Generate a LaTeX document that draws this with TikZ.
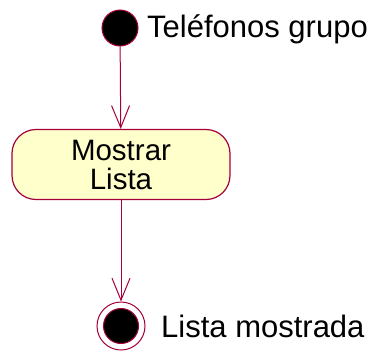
\documentclass[tikz,border=0pt]{standalone}
\usepackage{fontspec}
\setmainfont{Liberation Sans}
\usepackage{tikz}
\usetikzlibrary{arrows.meta,positioning}
\definecolor{umlline}{RGB}{165,0,60}
\definecolor{umlfill}{RGB}{255,255,204}

\begin{document}
\begin{tikzpicture}[x=1pt, y=-1pt,
    state/.style={circle, draw=umlline, fill=black, line width=1pt, minimum size=36pt, inner sep=0pt},
    final/.style={circle, draw=umlline, fill=white, line width=1pt, minimum size=48pt, inner sep=0pt},
    act/.style={draw=umlline, fill=umlfill, line width=1.2pt, rounded corners=24pt, minimum width=218pt, minimum height=70pt, align=center, font=\fontsize{29.5}{29}\selectfont},
    lbl/.style={font=\fontsize{31}{31}\selectfont, anchor=base west, inner sep=0pt},
    flow/.style={draw=umlline, line width=1pt, -{Straight Barb[length=22pt, width=18pt, line width=1pt]}}
  ]
    \useasboundingbox (0,0) rectangle (372,351);

    \node[state] (inicio) at (120,28) {};
    \node[lbl] (inicioLbl) at (147,37) {Teléfonos grupo};

    \node[act] (mostrar) at (121,164.5) {Mostrar\\Lista};

    \node[final] (fin) at (121,326) {};
    \node[state, minimum size=35pt] (finIn) at (121,326) {};
    \node[lbl] (finLbl) at (161,337) {Lista mostrada};

    \draw[flow] (inicio) -- (mostrar);
    \draw[flow] (mostrar) -- (fin);
  \end{tikzpicture}
\end{document}
